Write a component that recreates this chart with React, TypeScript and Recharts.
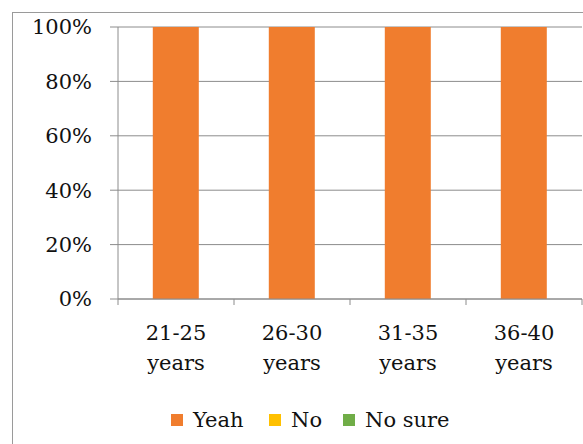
import { BarChart, Bar, XAxis, YAxis, CartesianGrid, Legend } from 'recharts';

const ageGroups = ['21-25 years', '26-30 years', '31-35 years', '36-40 years'];
const yeah = [100, 100, 100, 100];
const no = [0, 0, 0, 0];
const noSure = [0, 0, 0, 0];
const percentTicks = [0, 20, 40, 60, 80, 100];

const series = [
  { key: 'yeah', name: 'Yeah', color: '#F07D2E', slot: 98 },
  { key: 'no', name: 'No', color: '#FFC000', slot: 74 },
  { key: 'noSure', name: 'No sure', color: '#70AD47', slot: 110 },
];

const data = ageGroups.map((group, i) => ({
  group,
  yeah: yeah[i],
  no: no[i],
  noSure: noSure[i],
}));

const FONT = "'DejaVu Serif', serif";
const FONT_SIZE = 21;
const GRID = '#8c8c8c';

// two-line category label plus tick marks on the band edges
function AgeTick({ x, y, payload, index, width, visibleTicksCount }: any) {
  const [range, unit] = String(payload.value).split(' ');
  const band = width / visibleTicksCount;
  const left = x - band / 2;
  const right = x + band / 2;
  return (
    <g>
      <line x1={left} x2={left} y1={y} y2={y + 6} stroke={GRID} />
      {index === visibleTicksCount - 1 && (
        <line x1={right} x2={right} y1={y} y2={y + 6} stroke={GRID} />
      )}
      <text
        x={x}
        y={y}
        textAnchor="middle"
        fontFamily={FONT}
        fontSize={FONT_SIZE}
        fill="#111"
      >
        <tspan x={x} dy={41}>
          {range}
        </tspan>
        <tspan x={x} dy={30}>
          {unit}
        </tspan>
      </text>
    </g>
  );
}

function LegendBox() {
  return (
    <div
      style={{
        display: 'flex',
        alignItems: 'center',
        paddingLeft: 171,
        fontFamily: FONT,
        fontSize: FONT_SIZE,
        color: '#111',
        height: 28,
      }}
    >
      {series.map((s) => (
        <span
          key={s.key}
          style={{ display: 'flex', alignItems: 'center', width: s.slot, whiteSpace: 'nowrap' }}
        >
          <span
            style={{
              width: 12,
              height: 12,
              background: s.color,
              display: 'inline-block',
              marginRight: 10,
            }}
          />
          {s.name}
        </span>
      ))}
    </div>
  );
}

export default function App() {
  return (
    <div
      style={{
        position: 'absolute',
        left: 0,
        top: 0,
        width: 583,
        height: 444,
        background: '#fff',
        overflow: 'hidden',
      }}
    >
      <div
        style={{
          position: 'absolute',
          left: 12,
          top: 12,
          width: 640,
          height: 520,
          border: '1px solid #9a9a9a',
        }}
      />
      <BarChart
        width={583}
        height={444}
        data={data}
        margin={{ top: 27, right: 1, left: 0, bottom: 10 }}
        barCategoryGap="30%"
      >
        <CartesianGrid vertical={false} stroke={GRID} />
        <XAxis
          dataKey="group"
          height={107}
          axisLine={{ stroke: GRID }}
          tickLine={false}
          tickSize={0}
          tickMargin={0}
          tick={<AgeTick />}
          interval={0}
        />
        <YAxis
          width={118}
          domain={[0, 100]}
          ticks={percentTicks}
          tickFormatter={(v) => `${v}%`}
          axisLine={{ stroke: GRID }}
          tickLine={{ stroke: GRID }}
          tickSize={8}
          tickMargin={18}
          tick={{ fontSize: FONT_SIZE, fill: '#111', fontFamily: FONT }}
        />
        <Legend verticalAlign="bottom" height={28} content={<LegendBox />} />
        {series.map((s) => (
          <Bar
            key={s.key}
            dataKey={s.key}
            name={s.name}
            stackId="a"
            fill={s.color}
            isAnimationActive={false}
          />
        ))}
      </BarChart>
    </div>
  );
}
